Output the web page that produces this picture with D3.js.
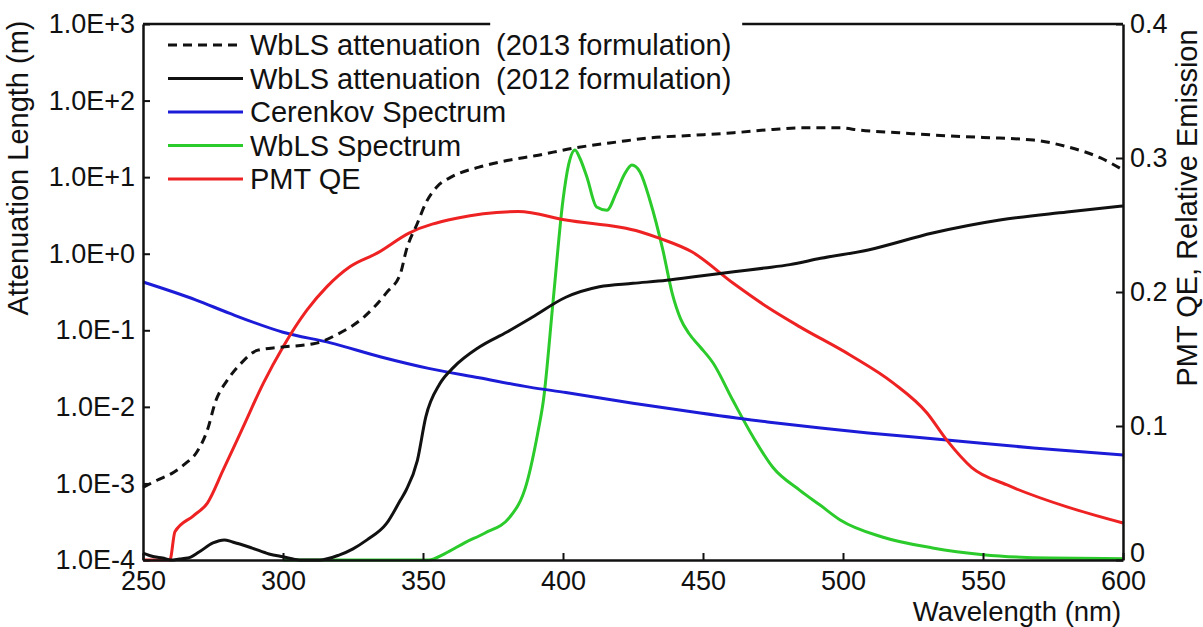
<!DOCTYPE html>
<html><head><meta charset="utf-8">
<script src="https://cdn.jsdelivr.net/npm/d3@7"></script>
<style>
html,body{margin:0;padding:0;background:#fff;}
text{font-family:"Liberation Sans",Arial,Helvetica,sans-serif;fill:#111;}
</style></head>
<body><svg id="c" width="1203" height="627"></svg>
<script>
// ---------- data ----------
const xTicks = [250, 300, 350, 400, 450, 500, 550, 600];
const leftTicks = [1e3, 1e2, 1e1, 1e0, 1e-1, 1e-2, 1e-3, 1e-4];
const leftTickLabels = ["1.0E+3","1.0E+2","1.0E+1","1.0E+0","1.0E-1","1.0E-2","1.0E-3","1.0E-4"];
const rightTicks = [0, 0.1, 0.2, 0.3, 0.4];
const rightTickLabels = ["0","0.1","0.2","0.3","0.4"];

const att2013Nm  = [250,255,261,265,269,273,276,280,285,291,299,312,319,329,337,342,344,348,351,355,360,370,380,390,404,420,431,445,461,475,485,499,506,520,532,550,568,580,592,600];
const att2013Val = [8.9e-4,1.1e-3,1.4e-3,1.8e-3,2.5e-3,5e-3,1.2e-2,2.2e-2,3.7e-2,5.5e-2,6.0e-2,6.8e-2,8.7e-2,0.15,0.31,0.56,1.1,2.5,4.6,7.5,10,13.5,16.5,19,24,29,32.6,35,38,42,44,44,41,38,35.5,33,30.5,25,17.8,12.4];

const att2012Nm  = [250,254,257,260,263,266,270,275,279,282,289,295,300,306,313,320,325,330,337,342,344,348,351,356,361,370,380,389,401,413,425,437,449,461,472,481,492,509,532,556,580,600];
const att2012Val = [1.23e-4,1.1e-4,1.06e-4,1.0e-4,1.03e-4,1.06e-4,1.27e-4,1.67e-4,1.83e-4,1.72e-4,1.43e-4,1.2e-4,1.1e-4,1.0e-4,1.0e-4,1.16e-4,1.4e-4,1.83e-4,3.0e-4,6.1e-4,8.2e-4,2.0e-3,7.4e-3,2.0e-2,3.3e-2,6.0e-2,0.095,0.148,0.27,0.37,0.41,0.45,0.51,0.58,0.65,0.72,0.87,1.12,1.86,2.75,3.5,4.2];

const cerenkovNm  = [250,269,281,300,317,335,352,370,388,401,425,449,473,492,509,537,568,600];
const cerenkovVal = [0.2075,0.194,0.184,0.170,0.162,0.1515,0.143,0.136,0.129,0.125,0.117,0.1097,0.103,0.0985,0.0948,0.0896,0.0836,0.0784];

const wblsNm  = [300,352,358,365,372,381,387,391,393,396.5,400,402,404.3,406,408.5,412,415.7,419,422,424.6,427.5,431,435.7,439,442,445,449,453.6,460.7,467.9,475,484.6,491.8,499,514,532,550,574,600];
const wblsVal = [0,0,0.005,0.013,0.02,0.032,0.057,0.095,0.119,0.194,0.2687,0.295,0.306,0.300,0.286,0.2634,0.261,0.274,0.288,0.2948,0.2896,0.2687,0.231,0.199,0.18,0.169,0.159,0.147,0.119,0.0918,0.069,0.052,0.041,0.0299,0.0172,0.009,0.004,0.0015,0.001];

const pmtNm  = [250,259.6,261.4,268,273,278.6,285.7,293,300,308.6,315.7,324,333.6,345,362,384,401,427.5,434.6,446,460.7,472.8,484.6,502.5,518,530,537,546,558.6,580,600];
const pmtVal = [0,0,0.021,0.033,0.0425,0.067,0.099,0.132,0.159,0.1866,0.204,0.219,0.229,0.244,0.255,0.26,0.2537,0.245,0.240,0.230,0.2067,0.189,0.174,0.153,0.132,0.1097,0.0896,0.069,0.056,0.0396,0.0276];

const legendNames = ["WbLS attenuation","WbLS attenuation","Cerenkov Spectrum","WbLS Spectrum","PMT QE"];
const legendExtra = ["(2013 formulation)","(2012 formulation)","","",""];
const topGapNm = [374, 464];

// ---------- layout ----------
const L = 143, R = 1123, T = 24, B = 560;
const svg = d3.select("#c");
const x = d3.scaleLinear().domain([250, 600]).range([L, R]);
const yL = d3.scaleLog().domain([1e-4, 1e3]).range([B, T]);
const yR = d3.scaleLinear().domain([0, 0.4]).range([B, T]);

const colors = {dash:"#111", att:"#111", cer:"#1c1cd8", wbls:"#2ccb2c", pmt:"#ee2222"};
const series = [
  {nm: wblsNm, v: wblsVal, y: yR, c: colors.wbls, dash: null},
  {nm: cerenkovNm, v: cerenkovVal, y: yR, c: colors.cer, dash: null},
  {nm: pmtNm, v: pmtVal, y: yR, c: colors.pmt, dash: null},
  {nm: att2012Nm, v: att2012Val, y: yL, c: colors.att, dash: null},
  {nm: att2013Nm, v: att2013Val, y: yL, c: colors.dash, dash: "9,6"}
];
series.forEach(s => {
  const pts = s.nm.map((n, i) => [n, s.v[i]]);
  const line = d3.line().x(d => x(d[0])).y(d => s.y(d[1])).curve(d3.curveMonotoneX);
  svg.append("path").attr("d", line(pts)).attr("fill","none")
    .attr("stroke", s.c).attr("stroke-width", 3)
    .attr("stroke-dasharray", s.dash).attr("stroke-linejoin","round");
});

// ---------- axes ----------
const fs = 27;
const gx = svg.append("g").attr("transform", `translate(0,${B})`)
  .call(d3.axisBottom(x).tickValues(xTicks).tickSizeInner(-7).tickSizeOuter(0).tickPadding(11).tickFormat(d3.format("d")));
const gl = svg.append("g").attr("transform", `translate(${L},0)`)
  .call(d3.axisLeft(yL).tickValues(leftTicks).tickSizeInner(-7).tickSizeOuter(0).tickPadding(8)
    .tickFormat((d, i) => leftTickLabels[i]));
const gr = svg.append("g").attr("transform", `translate(${R},0)`)
  .call(d3.axisRight(yR).tickValues(rightTicks).tickSizeInner(-7).tickSizeOuter(0).tickPadding(7)
    .tickFormat((d, i) => rightTickLabels[i]));
[gx, gl, gr].forEach(g => {
  g.selectAll("text").attr("font-size", fs).attr("font-family", '"Liberation Sans",Arial,sans-serif').attr("fill","#111");
  g.selectAll("line").attr("stroke","#111").attr("stroke-width",2);
  g.select(".domain").attr("stroke","#111").attr("stroke-width",2.5);
});
// lift the right "0" a little so it sits just above the "600" label
gr.selectAll(".tick").filter(d => d === 0).select("text").attr("dy", "0.05em");

// top border (interrupted by legend text)
svg.append("line").attr("x1", L).attr("x2", x(topGapNm[0])).attr("y1", T).attr("y2", T)
  .attr("stroke","#111").attr("stroke-width",2.5);
svg.append("line").attr("x1", x(topGapNm[1])).attr("x2", R).attr("y1", T).attr("y2", T)
  .attr("stroke","#111").attr("stroke-width",2.5);

// axis titles
svg.append("text").attr("transform", "translate(28,168) rotate(-90)").attr("text-anchor","middle")
  .attr("font-size", 29).text("Attenuation Length (m)");
svg.append("text").attr("transform", "translate(1197,208) rotate(-90)").attr("text-anchor","middle")
  .attr("font-size", 29).text("PMT QE, Relative Emission");
svg.append("text").attr("x", 1017).attr("y", 620.5).attr("text-anchor","middle")
  .attr("font-size", 27.5).text("Wavelength (nm)");

// ---------- legend ----------
const legColors = [colors.dash, colors.att, colors.cer, colors.wbls, colors.pmt];
const legDash = ["9,6", null, null, null, null];
const rowY = [45, 78.5, 112, 145.5, 179];
legendNames.forEach((name, i) => {
  svg.append("line").attr("x1", 168).attr("x2", 243).attr("y1", rowY[i]).attr("y2", rowY[i])
    .attr("stroke", legColors[i]).attr("stroke-width", 3).attr("stroke-dasharray", legDash[i]);
  svg.append("text").attr("x", 250).attr("y", rowY[i] + 10).attr("font-size", 29).text(name);
  if (legendExtra[i]) svg.append("text").attr("x", 496).attr("y", rowY[i] + 10).attr("font-size", 29).text(legendExtra[i]);
});
</script></body></html>
